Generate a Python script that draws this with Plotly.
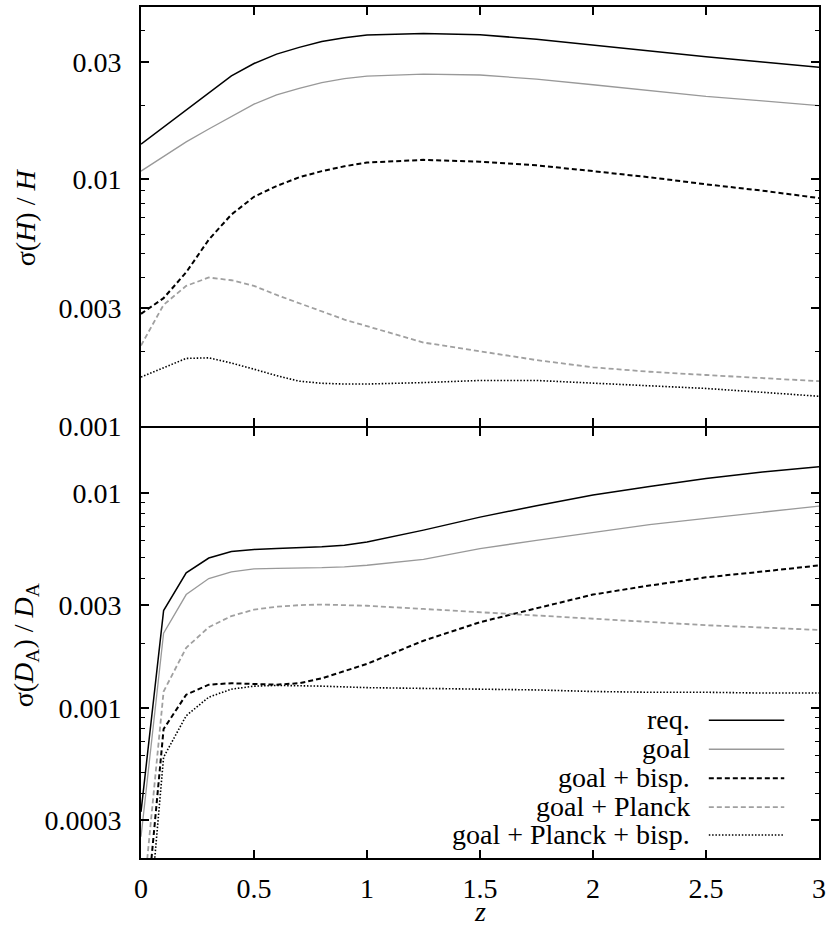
import math
import plotly.graph_objects as go

# ---------------- data ----------------
z = [0, 0.1, 0.2, 0.3, 0.4, 0.5, 0.6, 0.7, 0.8, 0.9, 1.0,
     1.25, 1.5, 1.75, 2.0, 2.25, 2.5, 2.75, 3.0]

series_names = ["req.", "goal", "goal + bisp.", "goal + Planck", "goal + Planck + bisp."]

# sigma(H)/H
H_req = [0.0139, 0.0163, 0.0191, 0.0224, 0.0263, 0.0295, 0.0322, 0.0343, 0.0362, 0.0375, 0.0385,
         0.0390, 0.0386, 0.0370, 0.0350, 0.0332, 0.0314, 0.0299, 0.0285]
H_goal = [0.0108, 0.0124, 0.0142, 0.0160, 0.0180, 0.0202, 0.0220, 0.0234, 0.0247, 0.0256, 0.0262,
          0.0267, 0.0265, 0.0255, 0.0242, 0.0229, 0.0217, 0.0208, 0.0199]
H_bisp = [0.00285, 0.0033, 0.0042, 0.0057, 0.0072, 0.0085, 0.0094, 0.0102, 0.0108, 0.0113, 0.0117,
          0.0120, 0.0118, 0.0114, 0.0108, 0.0102, 0.00955, 0.0090, 0.0084]
H_planck = [0.00212, 0.0031, 0.0037, 0.0040, 0.0039, 0.0037, 0.0034, 0.00315, 0.0029, 0.0027, 0.00254,
            0.00218, 0.00201, 0.00185, 0.00173, 0.00166, 0.00161, 0.00156, 0.00152]
H_planck_bisp = [0.00158, 0.00172, 0.00188, 0.00189, 0.0018, 0.0017, 0.0016, 0.00152, 0.00149, 0.00148, 0.00148,
                 0.0015, 0.00153, 0.00153, 0.00149, 0.00146, 0.00142, 0.00137, 0.00132]

# sigma(D_A)/D_A
D_req = [0.000328, 0.00283, 0.00424, 0.00497, 0.00533, 0.00545, 0.0055, 0.00554, 0.0056, 0.0057, 0.0059,
         0.0067, 0.0077, 0.0087, 0.00975, 0.0107, 0.01164, 0.0125, 0.0132]
D_goal = [0.000251, 0.00222, 0.00336, 0.00399, 0.00428, 0.00442, 0.00445, 0.00446, 0.00448, 0.00452, 0.0046,
          0.0049, 0.0055, 0.0060, 0.00655, 0.0071, 0.0076, 0.0081, 0.00867]
D_bisp = [0.00006, 0.000796, 0.00115, 0.00128, 0.0013, 0.00129, 0.00128, 0.0013, 0.00137, 0.00148, 0.0016,
          0.00205, 0.0025, 0.0029, 0.00336, 0.0037, 0.00404, 0.0043, 0.00459]
D_planck = [0.0001, 0.00119, 0.0019, 0.00237, 0.00267, 0.00286, 0.00295, 0.003, 0.00302, 0.003, 0.00298,
            0.00288, 0.00278, 0.00268, 0.00258, 0.0025, 0.00242, 0.00236, 0.0023]
D_planck_bisp = [0.000037, 0.000589, 0.000918, 0.00112, 0.00122, 0.00126, 0.00127, 0.00127, 0.00126, 0.00125, 0.00124,
                 0.00123, 0.00122, 0.00121, 0.00119, 0.00118, 0.00118, 0.00117, 0.00117]

x_ticks = [0, 0.5, 1, 1.5, 2, 2.5, 3]
x_ticktext = ["0", "0.5", "1", "1.5", "2", "2.5", "3"]
yH_ticks = [0.001, 0.003, 0.01, 0.03]
yH_ticktext = ["0.001", "0.003", "0.01", "0.03"]
yD_ticks = [0.0003, 0.001, 0.003, 0.01]
yD_ticktext = ["0.0003", "0.001", "0.003", "0.01"]

# ---------------- styles ----------------
styles = [
    dict(color="#000000", width=1.5, dash="solid"),
    dict(color="#999999", width=1.3, dash="solid"),
    dict(color="#000000", width=2.0, dash="5px,3px"),
    dict(color="#a0a0a0", width=1.8, dash="5px,3px"),
    dict(color="#000000", width=1.6, dash="1.5px,1.8px"),
]

FONT = "Liberation Serif"
FS = 28

W, H = 831, 929
L, R, T, B = 141, 7, 5, 71
PW = W - L - R
PH = H - T - B
LW = 2  # frame line width
split_top = (H - B - 425) / PH   # top panel bottom edge (pixel 425)
split_bot = (H - B - 427) / PH   # bottom panel top edge (pixel 427)

fig = go.Figure()
H_series = [H_req, H_goal, H_bisp, H_planck, H_planck_bisp]
D_series = [D_req, D_goal, D_bisp, D_planck, D_planck_bisp]
for name, ys, st in zip(series_names, H_series, styles):
    fig.add_trace(go.Scatter(x=z, y=ys, mode="lines", name=name, line=st,
                             xaxis="x", yaxis="y", showlegend=False))
for name, ys, st in zip(series_names, D_series, styles):
    fig.add_trace(go.Scatter(x=z, y=ys, mode="lines", name=name, line=st,
                             xaxis="x2", yaxis="y2", showlegend=False))


def minor_vals(lo_exp, hi_exp, majors):
    vals = []
    for e in range(lo_exp, hi_exp + 1):
        for m in range(1, 10):
            v = round(m * 10 ** e, 10)
            vals.append(v)
    return [v for v in vals if all(abs(v - mj) / mj > 1e-6 for mj in majors)]


axis_common = dict(showline=True, linecolor="black", linewidth=LW, mirror="allticks",
                   ticks="inside", ticklen=8, tickwidth=1.5, tickcolor="black",
                   showgrid=False, zeroline=False,
                   tickfont=dict(family=FONT, size=FS, color="black"))

fig.update_layout(
    width=W, height=H,
    margin=dict(l=L, r=R, t=T, b=B),
    paper_bgcolor="white", plot_bgcolor="white",
    showlegend=False,
    font=dict(family=FONT, size=FS, color="black"),
    xaxis=dict(domain=[0, 1], anchor="y", range=[0, 3], tickvals=x_ticks,
               showticklabels=False, **axis_common),
    yaxis=dict(domain=[split_top, 1], anchor="x", type="log",
               range=[-3, math.log10(0.05)], tickvals=yH_ticks, ticktext=yH_ticktext,
               ticklabelstandoff=12,
               minor=dict(tickmode="array", tickvals=minor_vals(-3, -2, yH_ticks),
                          ticks="inside", ticklen=4, tickwidth=1.2, tickcolor="black"),
               **axis_common),
    xaxis2=dict(domain=[0, 1], anchor="y2", range=[0, 3], tickvals=x_ticks,
                ticktext=x_ticktext, ticklabelstandoff=4, **axis_common),
    yaxis2=dict(domain=[0, split_bot], anchor="x2", type="log",
                range=[math.log10(0.0002), math.log10(0.02)], tickvals=yD_ticks,
                ticktext=yD_ticktext, ticklabelstandoff=12,
                minor=dict(tickmode="array", tickvals=minor_vals(-4, -2, yD_ticks),
                           ticks="inside", ticklen=4, tickwidth=1.2, tickcolor="black"),
                **axis_common),
)


def px_x(px):
    return (px - L) / PW


def px_y(py):
    return (H - B - py) / PH


annotations = [
    dict(text="σ(<i>H</i>) / <i>H</i>", x=px_x(25), y=px_y(216), xref="paper", yref="paper",
         textangle=-90, showarrow=False, xanchor="center", yanchor="middle",
         font=dict(family=FONT, size=FS, color="black")),
    dict(text="σ(<i>D</i><sub>A</sub>) / <i>D</i><sub>A</sub>", x=px_x(25), y=px_y(645),
         xref="paper", yref="paper", textangle=-90, showarrow=False,
         xanchor="center", yanchor="middle",
         font=dict(family=FONT, size=FS, color="black")),
    dict(text="<i>z</i>", x=px_x(482), y=px_y(929), xref="paper", yref="paper",
         showarrow=False, xanchor="center", yanchor="bottom",
         font=dict(family=FONT, size=FS, color="black")),
]

# manual legend (text right-aligned, sample line to the right)
leg_rows = [720, 749, 778, 807, 835]
shapes = []
for name, st, py in zip(series_names, styles, leg_rows):
    annotations.append(dict(text=name, x=px_x(696), y=px_y(py - 1), xref="paper", yref="paper",
                            showarrow=False, xanchor="right", yanchor="middle",
                            font=dict(family=FONT, size=FS, color="black")))
    shapes.append(dict(type="line", xref="paper", yref="paper",
                       x0=px_x(713), x1=px_x(789), y0=px_y(py), y1=px_y(py),
                       line=dict(color=st["color"], width=st["width"], dash=st["dash"])))

fig.update_layout(annotations=annotations, shapes=shapes)

fig.write_html("out.html")
